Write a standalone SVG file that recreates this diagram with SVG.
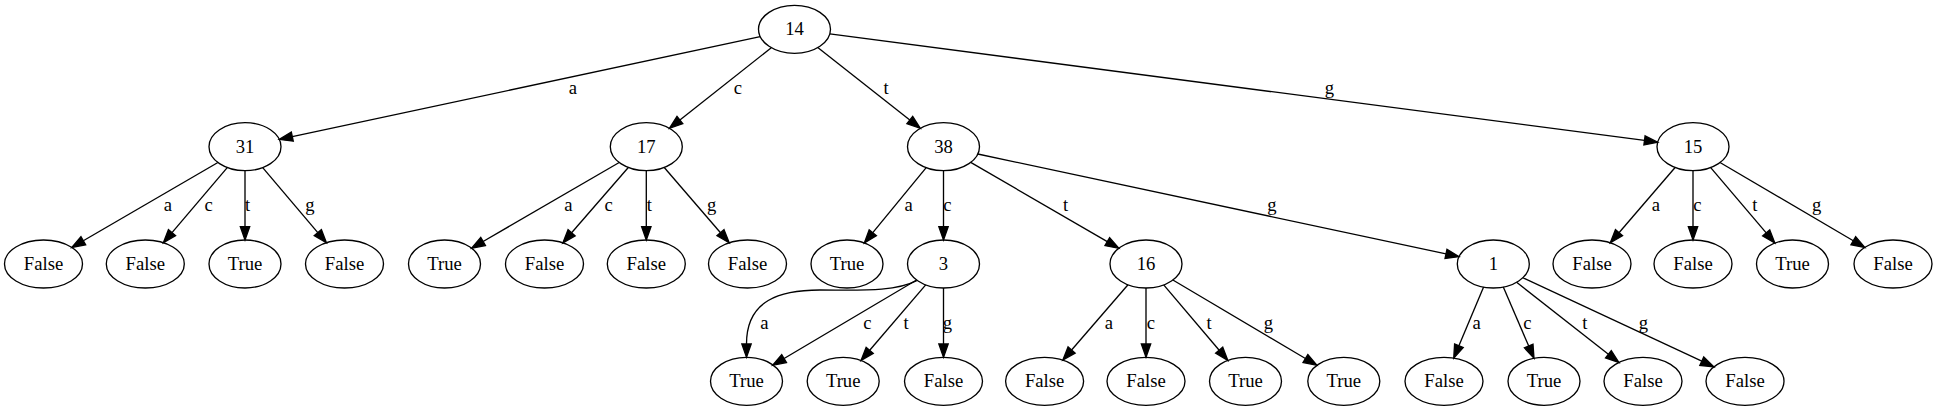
<svg xmlns="http://www.w3.org/2000/svg" width="1937" height="411" viewBox="0 0 1937 411">
<style>
.nd ellipse{fill:none;stroke:#000;stroke-width:1.33}
.nd text{font-family:"Liberation Serif","Times New Roman",serif;font-size:18.67px;text-anchor:middle;fill:#000}
#edges path{fill:none;stroke:#000;stroke-width:1.33;marker-end:url(#arr)}
#edges text{font-family:"Liberation Serif","Times New Roman",serif;font-size:18.67px;text-anchor:middle;fill:#000}
</style>
<defs>
<marker id="arr" markerUnits="userSpaceOnUse" viewBox="0 -6 16 12" refX="0" refY="0" markerWidth="16" markerHeight="12" orient="auto" overflow="visible">
<path d="M0,-4.67 L13.33,0 L0,4.67 Z" fill="#000" stroke="#000" stroke-width="1.33"/>
</marker>
</defs>
<rect width="1937" height="411" fill="#fff"/>
<g id="edges">
<path d="M760.2,36.6 L292.3,136.6"/><text x="573" y="94">a</text>
<path d="M771.3,47.7 L679.9,120"/><text x="738" y="94">c</text>
<path d="M817.75,47.6 L909.8,120.1"/><text x="886" y="94">t</text>
<path d="M829.8,33.9 L1644.5,140.4"/><text x="1329.5" y="94">g</text>

<path d="M217.9,162.5 L83.3,240.8"/><text x="168" y="211.3">a</text>
<path d="M227.25,167.6 L172,232.6"/><text x="208.6" y="211.3">c</text>
<path d="M245,170.7 L245,226.7"/><text x="247.5" y="211.3">t</text>
<path d="M262.7,167.6 L317.8,232.6"/><text x="310" y="211.3">g</text>

<path d="M619.2,162.5 L483.1,241.5"/><text x="568.5" y="211.3">a</text>
<path d="M628.3,167.5 L571.6,232.8"/><text x="608.6" y="211.3">c</text>
<path d="M646.3,170.7 L646.3,226.7"/><text x="649.4" y="211.3">t</text>
<path d="M664.25,167.5 L720.5,232.7"/><text x="711.7" y="211.3">g</text>

<path d="M926.2,167.7 L872.8,232.7"/><text x="908.6" y="211.3">a</text>
<path d="M943.5,170.7 L943.5,226.7"/><text x="947.5" y="211.3">c</text>
<path d="M970.7,162.4 L1107.3,241.6"/><text x="1065.7" y="211.3">t</text>
<path d="M977.8,154 L1446,253.9"/><text x="1272" y="211.3">g</text>

<path d="M1675.1,167.5 L1619,232.7"/><text x="1656" y="211.3">a</text>
<path d="M1693,170.7 L1693,226.7"/><text x="1697.3" y="211.3">c</text>
<path d="M1710.7,167.6 L1766.2,232.9"/><text x="1754.8" y="211.3">t</text>
<path d="M1720,162.55 L1853.3,240.7"/><text x="1816.6" y="211.3">g</text>

<path d="M916.7,280.7 C895,292 860,290 820,290 C780,290 746.5,300 746.5,344"/><text x="764.3" y="328.5">a</text>
<path d="M916.6,280 L784.1,358.55"/><text x="867.5" y="328.5">c</text>
<path d="M925.7,284.85 L869.7,350.3"/><text x="906" y="328.5">t</text>
<path d="M943.5,288 L943.5,344"/><text x="947.5" y="328.5">g</text>

<path d="M1128,284.8 L1071.6,350"/><text x="1109" y="328.5">a</text>
<path d="M1146,288 L1146,344"/><text x="1151" y="328.5">c</text>
<path d="M1163.7,284.9 L1219.2,350.2"/><text x="1209" y="328.5">t</text>
<path d="M1172.9,280 L1305.4,358.55"/><text x="1268.4" y="328.5">g</text>

<path d="M1483.6,287.1 L1458.9,345.8"/><text x="1476.6" y="328.5">a</text>
<path d="M1503.3,287.1 L1528.7,346"/><text x="1527.3" y="328.5">c</text>
<path d="M1516.6,282.3 L1608.4,354.2"/><text x="1584.8" y="328.5">t</text>
<path d="M1522.8,277.75 L1701.8,361.2"/><text x="1643.5" y="328.5">g</text>
</g>

<g id="n14" class="nd"><ellipse cx="794.5" cy="29.3" rx="36" ry="24"/><text x="794.5" y="35.3">14</text></g>

<g id="n31" class="nd"><ellipse cx="245" cy="146.7" rx="36" ry="24"/><text x="245" y="152.7">31</text></g>
<g id="n17" class="nd"><ellipse cx="646.3" cy="146.7" rx="36" ry="24"/><text x="646.3" y="152.7">17</text></g>
<g id="n38" class="nd"><ellipse cx="943.5" cy="146.7" rx="36" ry="24"/><text x="943.5" y="152.7">38</text></g>
<g id="n15" class="nd"><ellipse cx="1693" cy="146.7" rx="36" ry="24"/><text x="1693" y="152.7">15</text></g>

<g id="n31a" class="nd"><ellipse cx="43.5" cy="264" rx="39" ry="24"/><text x="43.5" y="270">False</text></g>
<g id="n31c" class="nd"><ellipse cx="145.3" cy="264" rx="39" ry="24"/><text x="145.3" y="270">False</text></g>
<g id="n31t" class="nd"><ellipse cx="245" cy="264" rx="36" ry="24"/><text x="245" y="270">True</text></g>
<g id="n31g" class="nd"><ellipse cx="344.5" cy="264" rx="39" ry="24"/><text x="344.5" y="270">False</text></g>

<g id="n17a" class="nd"><ellipse cx="444.5" cy="264" rx="36" ry="24"/><text x="444.5" y="270">True</text></g>
<g id="n17c" class="nd"><ellipse cx="544.5" cy="264" rx="39" ry="24"/><text x="544.5" y="270">False</text></g>
<g id="n17t" class="nd"><ellipse cx="646.3" cy="264" rx="39" ry="24"/><text x="646.3" y="270">False</text></g>
<g id="n17g" class="nd"><ellipse cx="747.5" cy="264" rx="39" ry="24"/><text x="747.5" y="270">False</text></g>

<g id="n38a" class="nd"><ellipse cx="847" cy="264" rx="36" ry="24"/><text x="847" y="270">True</text></g>
<g id="n3" class="nd"><ellipse cx="943.5" cy="264" rx="36" ry="24"/><text x="943.5" y="270">3</text></g>
<g id="n16" class="nd"><ellipse cx="1146" cy="264" rx="36" ry="24"/><text x="1146" y="270">16</text></g>
<g id="n1" class="nd"><ellipse cx="1493.3" cy="264" rx="36" ry="24"/><text x="1493.3" y="270">1</text></g>

<g id="n15a" class="nd"><ellipse cx="1592" cy="264" rx="39" ry="24"/><text x="1592" y="270">False</text></g>
<g id="n15c" class="nd"><ellipse cx="1693" cy="264" rx="39" ry="24"/><text x="1693" y="270">False</text></g>
<g id="n15t" class="nd"><ellipse cx="1792.5" cy="264" rx="36" ry="24"/><text x="1792.5" y="270">True</text></g>
<g id="n15g" class="nd"><ellipse cx="1893" cy="264" rx="39" ry="24"/><text x="1893" y="270">False</text></g>

<g id="n3ac" class="nd"><ellipse cx="746.5" cy="381.3" rx="36" ry="24"/><text x="746.5" y="387.3">True</text></g>
<g id="n3t" class="nd"><ellipse cx="843.2" cy="381.3" rx="36" ry="24"/><text x="843.2" y="387.3">True</text></g>
<g id="n3g" class="nd"><ellipse cx="943.5" cy="381.3" rx="39" ry="24"/><text x="943.5" y="387.3">False</text></g>

<g id="n16a" class="nd"><ellipse cx="1044.6" cy="381.3" rx="39" ry="24"/><text x="1044.6" y="387.3">False</text></g>
<g id="n16c" class="nd"><ellipse cx="1146" cy="381.3" rx="39" ry="24"/><text x="1146" y="387.3">False</text></g>
<g id="n16t" class="nd"><ellipse cx="1245.5" cy="381.3" rx="36" ry="24"/><text x="1245.5" y="387.3">True</text></g>
<g id="n16g" class="nd"><ellipse cx="1343.8" cy="381.3" rx="36" ry="24"/><text x="1343.8" y="387.3">True</text></g>

<g id="n1a" class="nd"><ellipse cx="1444" cy="381.3" rx="39" ry="24"/><text x="1444" y="387.3">False</text></g>
<g id="n1c" class="nd"><ellipse cx="1544" cy="381.3" rx="36" ry="24"/><text x="1544" y="387.3">True</text></g>
<g id="n1t" class="nd"><ellipse cx="1643" cy="381.3" rx="39" ry="24"/><text x="1643" y="387.3">False</text></g>
<g id="n1g" class="nd"><ellipse cx="1745" cy="381.3" rx="39" ry="24"/><text x="1745" y="387.3">False</text></g>
</svg>
